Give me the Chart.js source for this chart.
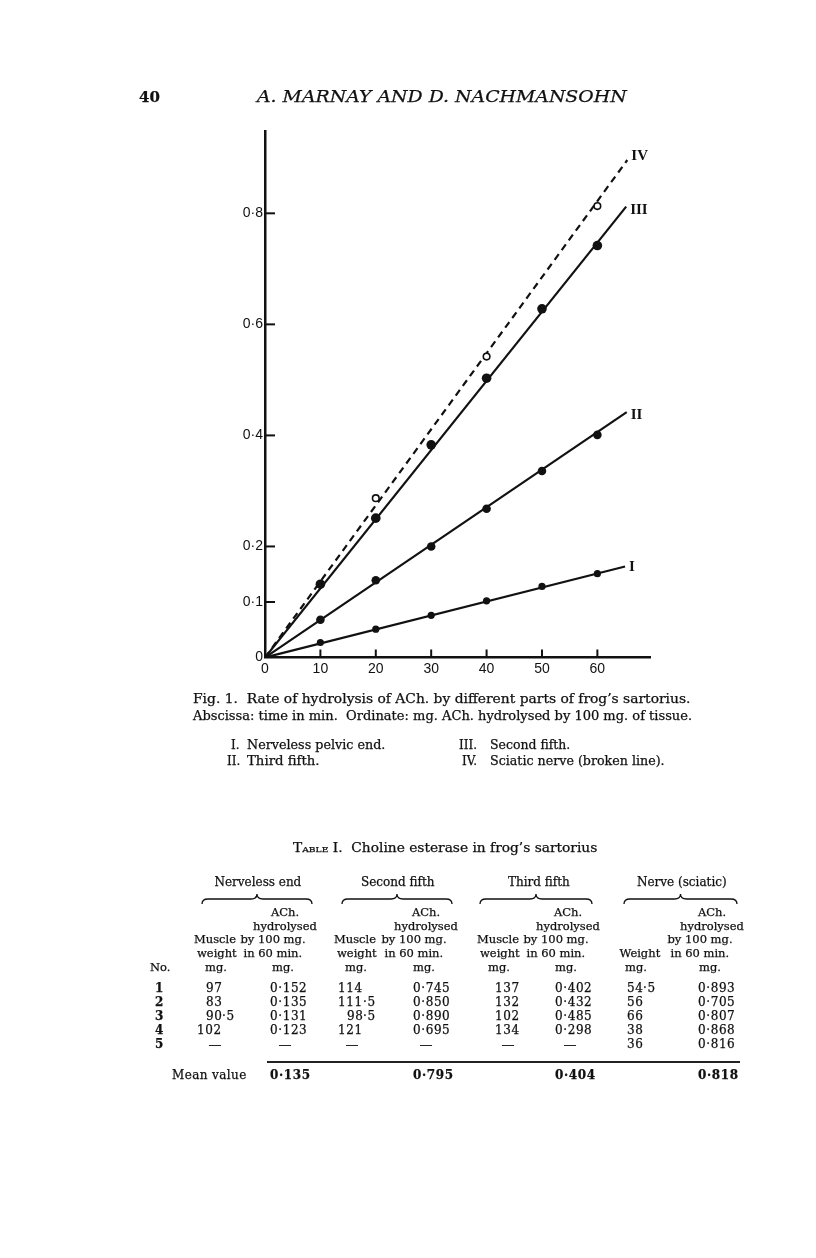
<!DOCTYPE html>
<html>
<head>
<meta charset="utf-8">
<script src="https://cdn.jsdelivr.net/npm/chart.js@4.4.1/dist/chart.umd.min.js"></script>
<style>
  html, body { margin: 0; padding: 0; background: #fff; }
  #page { position: relative; width: 816px; height: 1258px; overflow: hidden; background: #fff; color: #111; font-family: "DejaVu Serif", serif; }
  #chartBox { position: absolute; left: 200px; top: 120px; width: 470px; height: 570px; }
  #braces { position: absolute; left: 0; top: 0; }
  .t { position: absolute; white-space: pre; line-height: 1; transform-origin: 0 50%; -webkit-text-stroke: 0.25px #111; }
  .sc { font-variant: small-caps; }
</style>
</head>
<body>
<div id="page">
  <div id="chartBox"><canvas id="fig"></canvas></div>
  <svg id="braces" width="816" height="1258"></svg>
</div>
<script>
// time in min (x) and mg ACh hydrolysed (y)
const times = [10, 20, 30, 40, 50, 60];
const seriesI = [0.027, 0.051, 0.076, 0.102, 0.128, 0.151];
const seriesII = [0.068, 0.139, 0.200, 0.268, 0.336, 0.401];
const seriesIII = [0.132, 0.251, 0.383, 0.503, 0.628, 0.742];
const timesIV = [20, 40, 60];
const seriesIV = [0.287, 0.542, 0.813];

// straight lines drawn from the origin to these end points
const lineNames = ["I", "II", "III", "IV"];
const lineEndX = [65.0, 65.3, 65.2, 65.4];
const lineEndY = [0.164, 0.442, 0.812, 0.896];

const xTicks = [0, 10, 20, 30, 40, 50, 60];
const xTickLabels = ["0", "10", "20", "30", "40", "50", "60"];
const yTicks = [0, 0.1, 0.2, 0.4, 0.6, 0.8];
const yTickLabels = ["0", "0\u00b71", "0\u00b72", "0\u00b74", "0\u00b76", "0\u00b78"];

// Table I
const rowNos = ["1", "2", "3", "4", "5"];
const nervelessWt = ["97", "83", "90\u00b75", "102", "\u2014"];
const nervelessACh = ["0\u00b7152", "0\u00b7135", "0\u00b7131", "0\u00b7123", "\u2014"];
const secondWt = ["114", "111\u00b75", "98\u00b75", "121", "\u2014"];
const secondACh = ["0\u00b7745", "0\u00b7850", "0\u00b7890", "0\u00b7695", "\u2014"];
const thirdWt = ["137", "132", "102", "134", "\u2014"];
const thirdACh = ["0\u00b7402", "0\u00b7432", "0\u00b7485", "0\u00b7298", "\u2014"];
const nerveWt = ["54\u00b75", "56", "66", "38", "36"];
const nerveACh = ["0\u00b7893", "0\u00b7705", "0\u00b7807", "0\u00b7868", "0\u00b7816"];
const meanValues = ["0\u00b7135", "0\u00b7795", "0\u00b7404", "0\u00b7818"];

const ink = "#111";
const page = document.getElementById("page");

// place a line of text, y is the vertical middle
function put(str, x, y, opt = {}) {
  const el = document.createElement("div");
  el.className = "t";
  if (opt.html) el.innerHTML = str; else el.textContent = str;
  el.style.left = x + "px";
  el.style.top = y + "px";
  el.style.fontSize = (opt.size || 11.5) + "px";
  if (opt.weight) el.style.fontWeight = opt.weight;
  if (opt.italic) el.style.fontStyle = "italic";
  if (opt.ls) el.style.letterSpacing = opt.ls + "px";
  page.appendChild(el);
  const w = el.offsetWidth;
  let tx = 0;
  if (opt.align === "c") tx = -w / 2;
  else if (opt.align === "r") tx = -w;
  el.style.transform = opt.fit
    ? `translate(0,-50%) scaleX(${opt.fit / w})`
    : `translate(${tx}px,-50%)`;
  return el;
}

// page head
put("40", 139, 97, { size: 15, weight: "bold" });
put("A. MARNAY AND D. NACHMANSOHN", 257, 97, { size: 16.5, italic: true, fit: 370 });

// caption
put("Fig. 1.  Rate of hydrolysis of ACh. by different parts of frog\u2019s sartorius.", 193, 699, { size: 12, fit: 497 });
put("Abscissa: time in min.  Ordinate: mg. ACh. hydrolysed by 100 mg. of tissue.", 193, 716, { size: 12, fit: 499 });
put("I.", 240, 745, { size: 12, align: "r" });
put("Nerveless pelvic end.", 247, 745, { size: 12, fit: 138 });
put("II.", 240, 761, { size: 12, align: "r" });
put("Third fifth.", 247, 761, { size: 12, fit: 73 });
put("III.", 477, 745, { size: 12, align: "r" });
put("Second fifth.", 490, 745, { size: 12, fit: 80 });
put("IV.", 477, 761, { size: 12, align: "r" });
put("Sciatic nerve (broken line).", 490, 761, { size: 12, fit: 175 });

// table title and headings
put('<span class="sc">Table</span> I.  Choline esterase in frog\u2019s sartorius', 293, 848, { size: 12, html: true, fit: 304 });
[["Nerveless end", 258], ["Second fifth", 398], ["Third fifth", 539], ["Nerve (sciatic)", 682]]
  .forEach(([s, cx]) => put(s, cx, 882, { size: 12, align: "c" }));

const braceSpans = [[202, 312], [342, 452], [480, 592], [624, 737]];
document.getElementById("braces").innerHTML = braceSpans.map(([a, b]) => {
  const m = (a + b) / 2, y = 899;
  return `<path d="M${a},${y + 5} Q${a},${y} ${a + 6},${y} L${m - 6},${y} Q${m},${y} ${m},${y - 5} Q${m},${y} ${m + 6},${y} L${b - 6},${y} Q${b},${y} ${b},${y + 5}" fill="none" stroke="${ink}" stroke-width="1.3"/>`;
}).join("");

const headY = [913, 927, 940, 954, 968];
const weightHead = (cx) => {
  put("Muscle", cx, headY[2], { align: "c" });
  put("weight", cx + 2, headY[3], { align: "c" });
  put("mg.", cx + 1, headY[4], { align: "c" });
};
const achHead = (cx) => {
  put("ACh.", cx, headY[0], { align: "c" });
  put("hydrolysed", cx, headY[1], { align: "c" });
  put("by 100 mg.", cx - 12, headY[2], { align: "c" });
  put("in 60 min.", cx - 12, headY[3], { align: "c" });
  put("mg.", cx - 2, headY[4], { align: "c" });
};
put("No.", 150, headY[4]);
weightHead(215); achHead(285);
weightHead(355); achHead(426);
weightHead(498); achHead(568);
put("Weight", 640, headY[3], { align: "c" });
put("mg.", 636, headY[4], { align: "c" });
achHead(712);

// table body
const rowY = (i) => 988 + i * 14;
const numOpt = { size: 12, ls: 0.6 };
const columns = [
  { data: nervelessWt, mode: "dec", x: 222, dash: 215 },
  { data: nervelessACh, mode: "left", x: 270, dash: 285 },
  { data: secondWt, mode: "dec", x: 363, dash: 352 },
  { data: secondACh, mode: "left", x: 413, dash: 426 },
  { data: thirdWt, mode: "right", x: 520, dash: 508 },
  { data: thirdACh, mode: "left", x: 555, dash: 570 },
  { data: nerveWt, mode: "dec", x: 643, dash: 636 },
  { data: nerveACh, mode: "left", x: 698, dash: 712 },
];
rowNos.forEach((n, i) => put(n, 159, rowY(i), { size: 12, weight: "bold", align: "c" }));
columns.forEach((col) => {
  col.data.forEach((v, i) => {
    const y = rowY(i);
    if (v === "\u2014") { put(v, col.dash, y, { size: 13, align: "c" }); return; }
    if (col.mode === "left") put(v, col.x, y, numOpt);
    else if (col.mode === "right") put(v, col.x, y, { ...numOpt, align: "r" });
    else {
      const [a, b] = v.split("\u00b7");
      put(a, col.x, y, { ...numOpt, align: "r" });
      if (b !== undefined) put("\u00b7" + b, col.x, y, numOpt);
    }
  });
});
const rule = document.createElement("div");
rule.style.cssText = "position:absolute;left:267px;top:1061px;width:473px;height:1.6px;background:#222;";
page.appendChild(rule);
put("Mean value", 172, 1075, { size: 12, ls: 0.4 });
[270, 413, 555, 698].forEach((x, i) => put(meanValues[i], x, 1075, { ...numOpt, weight: "bold" }));

// chart
const pts = (xs, ys) => xs.map((x, i) => ({ x, y: ys[i] }));
const fitLine = (i) => [{ x: 0, y: 0 }, { x: lineEndX[i], y: lineEndY[i] }];

const insideMarks = {
  id: "insideMarks",
  afterDraw(chart) {
    const { ctx, chartArea, scales: { x, y } } = chart;
    ctx.save();
    ctx.strokeStyle = ink;
    ctx.lineWidth = 2;
    yTicks.forEach((v) => {
      if (v === 0) return;
      const py = y.getPixelForValue(v);
      ctx.beginPath();
      ctx.moveTo(chartArea.left, py);
      ctx.lineTo(chartArea.left + 10, py);
      ctx.stroke();
    });
    xTicks.forEach((v) => {
      if (v === 0) return;
      const px = x.getPixelForValue(v);
      ctx.beginPath();
      ctx.moveTo(px, chartArea.bottom);
      ctx.lineTo(px, chartArea.bottom - 8);
      ctx.stroke();
    });
    // roman numerals at the line ends
    const dy = [1, 3, 3, -4];
    ctx.fillStyle = ink;
    ctx.font = 'bold 15px "Liberation Serif", serif';
    ctx.textBaseline = "middle";
    lineNames.forEach((n, i) => {
      const px = x.getPixelForValue(lineEndX[i]);
      const py = y.getPixelForValue(lineEndY[i]);
      ctx.fillText(n, px + 4, py + dy[i]);
    });
    ctx.restore();
  },
};

const tickFont = { family: '"Liberation Sans", Arial, sans-serif', size: 14 };

new Chart(document.getElementById("fig"), {
  type: "scatter",
  data: {
    datasets: [
      ...lineNames.map((n, i) => ({
        label: n + " line",
        data: fitLine(i),
        showLine: true,
        pointRadius: 0,
        borderColor: ink,
        borderWidth: 2.2,
        borderDash: i === 3 ? [7, 5] : [],
        order: 1,
      })),
      { label: "I", data: pts(times, seriesI), pointRadius: 3.6, pointBackgroundColor: ink, pointBorderWidth: 0, order: 0 },
      { label: "II", data: pts(times, seriesII), pointRadius: 4.3, pointBackgroundColor: ink, pointBorderWidth: 0, order: 0 },
      { label: "III", data: pts(times, seriesIII), pointRadius: 4.8, pointBackgroundColor: ink, pointBorderWidth: 0, order: 0 },
      { label: "IV", data: pts(timesIV, seriesIV), pointRadius: 3.3, pointBackgroundColor: "#fff", pointBorderColor: ink, pointBorderWidth: 1.6, order: 0 },
    ],
  },
  options: {
    responsive: true,
    maintainAspectRatio: false,
    animation: false,
    events: [],
    layout: { padding: { top: 11.7, right: 20, left: 0, bottom: 0 } },
    plugins: { legend: { display: false }, tooltip: { enabled: false } },
    scales: {
      x: {
        type: "linear",
        min: 0,
        max: 69.5,
        grid: { display: false, drawTicks: false },
        border: { display: true, color: ink, width: 2.5 },
        ticks: { color: ink, font: tickFont, padding: 3, autoSkip: false, maxRotation: 0, callback: (v, i) => xTickLabels[i] },
        afterBuildTicks: (s) => { s.ticks = xTicks.map((v) => ({ value: v })); },
        afterFit: (s) => { s.height = 32.5; },
      },
      y: {
        type: "linear",
        min: 0,
        max: 0.947,
        grid: { display: false, drawTicks: false },
        border: { display: true, color: ink, width: 2.5 },
        ticks: { color: ink, font: tickFont, padding: 2, autoSkip: false, callback: (v, i) => yTickLabels[i] },
        afterBuildTicks: (s) => { s.ticks = yTicks.map((v) => ({ value: v })); },
        afterFit: (s) => { s.width = 65; },
      },
    },
  },
  plugins: [insideMarks],
});
</script>
</body>
</html>
